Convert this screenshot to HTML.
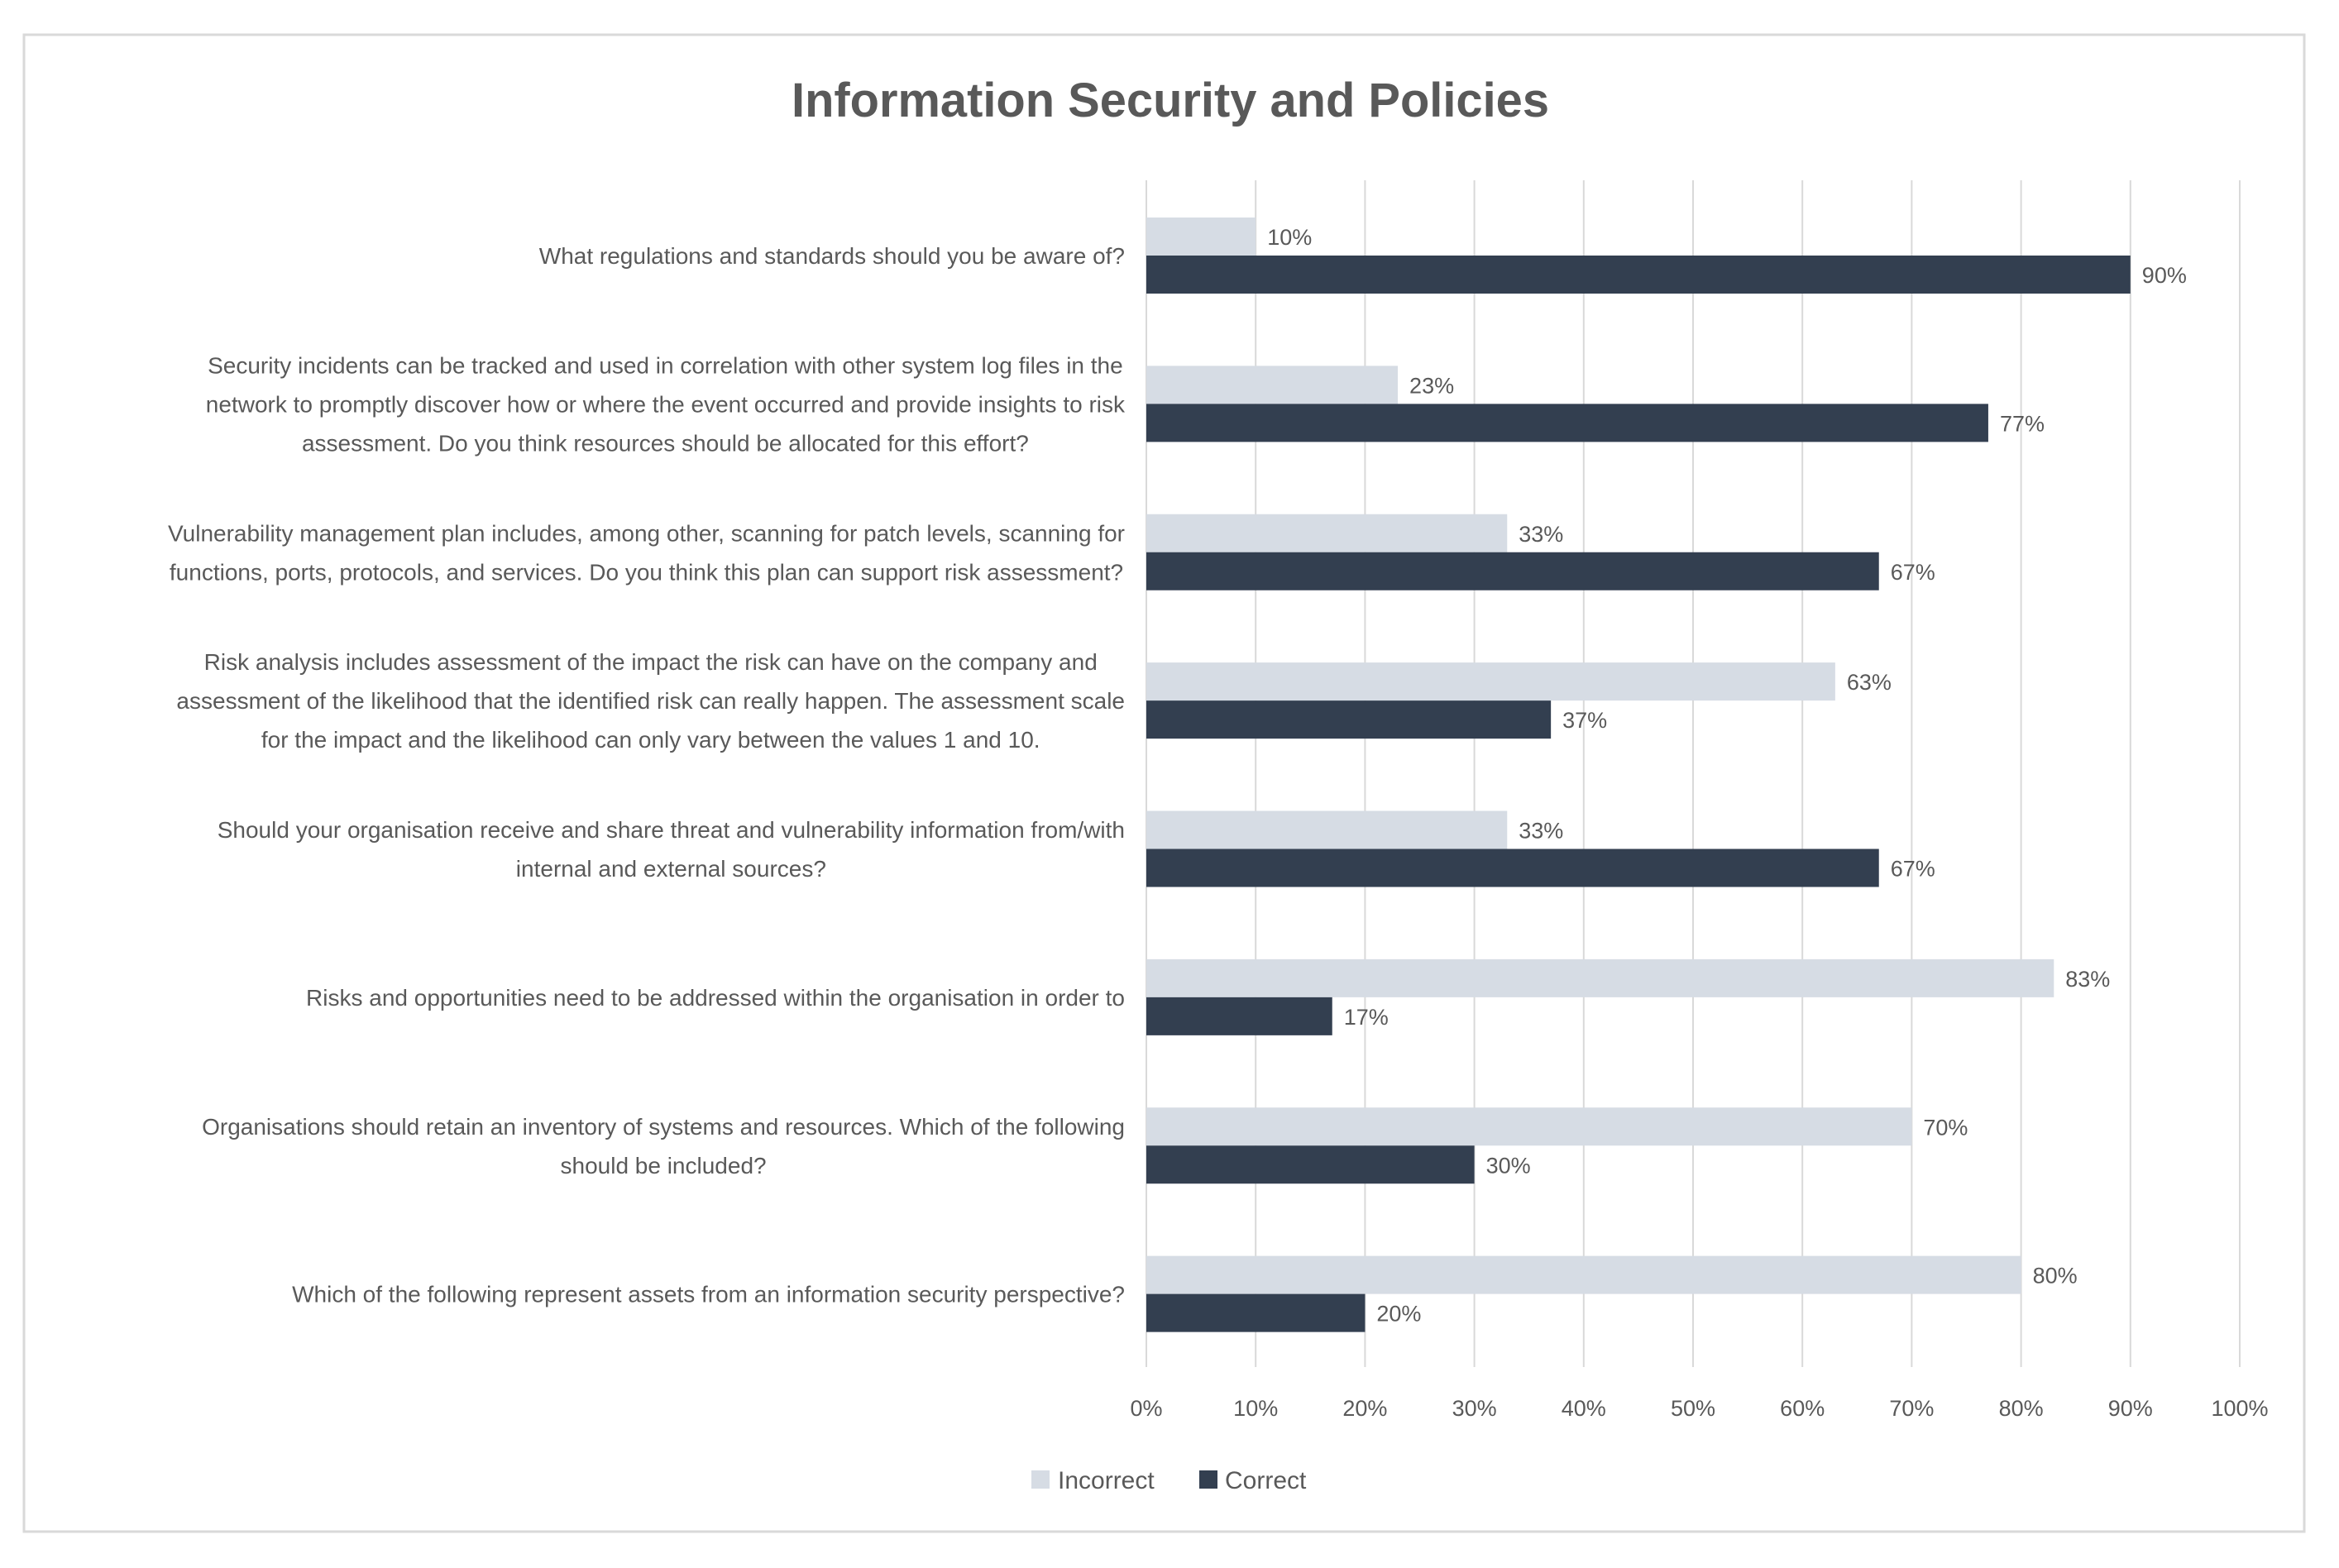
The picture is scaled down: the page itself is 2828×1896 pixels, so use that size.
<!DOCTYPE html>
<html><head><meta charset="utf-8"><style>
html,body{margin:0;padding:0;background:#fff;}
svg{display:block;font-family:"Liberation Sans",sans-serif;}
</style></head><body>
<svg id="chart" width="2828" height="1896" viewBox="0 0 2828 1896">
<rect x="29" y="42" width="2757" height="1810" fill="#fff" stroke="#d9d9d9" stroke-width="3"/>
<text x="1415" y="141" text-anchor="middle" font-size="58" font-weight="bold" fill="#595959" textLength="916" lengthAdjust="spacingAndGlyphs">Information Security and Policies</text>
<g id="grid"></g><g id="bars"></g><g id="labels"></g><g id="ticks"></g>
<g>
<rect x="1247" y="1778" width="22" height="22" fill="#d6dce4"/>
<text x="1279" y="1800" font-size="30" fill="#595959">Incorrect</text>
<rect x="1450" y="1778" width="22" height="22" fill="#333f50"/>
<text x="1481" y="1800" font-size="30" fill="#595959">Correct</text>
</g>
</svg>
<script>
const categories = [
 ["What regulations and standards should you be aware of?"],
 ["Security incidents can be tracked and used in correlation with other system log files in the","network to promptly discover how or where the event occurred and provide insights to risk","assessment. Do you think resources should be allocated for this effort?"],
 ["Vulnerability management plan includes, among other, scanning for patch levels, scanning for","functions, ports, protocols, and services. Do you think this plan can support risk assessment?"],
 ["Risk analysis includes assessment of the impact the risk can have on the company and","assessment of the likelihood that the identified risk can really happen. The assessment scale","for the impact and the likelihood can only vary between the values 1 and 10."],
 ["Should your organisation receive and share threat and vulnerability information from/with","internal and external sources?"],
 ["Risks and opportunities need to be addressed within the organisation in order to"],
 ["Organisations should retain an inventory of systems and resources. Which of the following","should be included?"],
 ["Which of the following represent assets from an information security perspective?"]
];
const incorrect = [10,23,33,63,33,83,70,80];
const correct = [90,77,67,37,67,17,30,20];
const ticks = [0,10,20,30,40,50,60,70,80,90,100];

const NS="http://www.w3.org/2000/svg";
const X0=1386, X1=2708, YT=218, YB=1653;
const band=(YB-YT)/categories.length;
function xs(v){return X0+(X1-X0)*v/100;}
function mk(tag,attrs,parent){const e=document.createElementNS(NS,tag);for(const k in attrs)e.setAttribute(k,attrs[k]);document.getElementById(parent).appendChild(e);return e;}
ticks.forEach(t=>{
 const l=mk('line',{x1:xs(t),x2:xs(t),y1:YT,y2:YB,stroke:'#d9d9d9','stroke-width':2},'grid');
 
 
 const tx=mk('text',{x:xs(t),y:1712,'text-anchor':'middle','font-size':27,fill:'#595959'},'ticks');
 tx.textContent=t+'%';
 
 
});
categories.forEach((lines,i)=>{
 const top=YT+i*band;
 const yI=top+45, h=46, yC=yI+h;
 const b1=mk('rect',{x:X0,y:yI,width:xs(incorrect[i])-X0,height:h,fill:'#d6dce4'},'bars');
 
 
 const b2=mk('rect',{x:X0,y:yC,width:xs(correct[i])-X0,height:h,fill:'#333f50'},'bars');
 
 
 const v1=mk('text',{x:xs(incorrect[i])+14,y:yI+h/2+10,'font-size':27,fill:'#595959'},'bars');
 v1.textContent=incorrect[i]+'%';
 
 
 const v2=mk('text',{x:xs(correct[i])+14,y:yC+h/2+10,'font-size':27,fill:'#595959'},'bars');
 v2.textContent=correct[i]+'%';
 
 
 const g=mk('g',{},'labels');
 
 
 const mid=yC; const lh=47;
 const ts=lines.map((s,j)=>{const t=document.createElementNS(NS,'text');t.setAttribute('font-size',28);t.setAttribute('fill','#595959');t.setAttribute('text-anchor','middle');t.setAttribute('y',mid+(j-(lines.length-1)/2)*lh+10);t.textContent=s;g.appendChild(t);return t;});
 let w=0;ts.forEach(t=>{w=Math.max(w,t.getComputedTextLength());});
 const maxW=1300;let sc=w>maxW?maxW/w:1;
 const cx=1360-w*sc/2;
 ts.forEach(t=>{t.setAttribute('x',cx);if(sc<1){t.setAttribute('textLength',t.getComputedTextLength()*sc);t.setAttribute('lengthAdjust','spacingAndGlyphs');}});
});
</script>
</body></html>
